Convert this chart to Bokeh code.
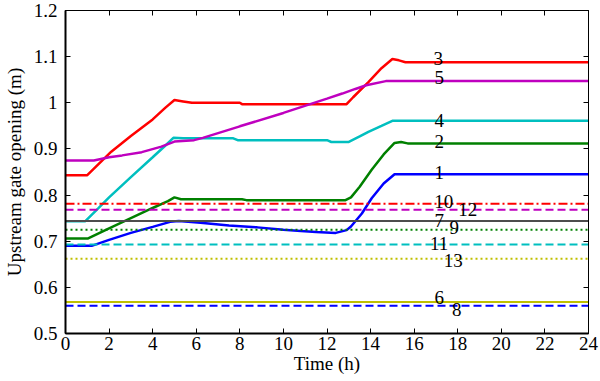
from bokeh.plotting import figure
from bokeh.models import LinearAxis, FixedTicker, Range1d, ColumnDataSource
from bokeh.core.properties import value
from bokeh.embed import file_html
from bokeh.resources import INLINE

# ---------------- data ----------------
t1 = [0, 1.2, 2.0, 3.0, 4.0, 4.8, 5.2, 6.2, 7.5, 8.8, 10.0, 10.8, 11.5, 12.4, 12.9, 13.1, 13.6, 14.05, 14.6, 15.1, 24]
y1 = [0.690, 0.690, 0.703, 0.718, 0.731, 0.742, 0.744, 0.740, 0.734, 0.730, 0.725, 0.722, 0.720, 0.718, 0.724, 0.732, 0.760, 0.793, 0.825, 0.845, 0.845]

t2 = [0, 1.04, 2.0, 3.0, 4.0, 4.7, 5.0, 5.3, 8.1, 8.3, 12.85, 13.1, 13.5, 14.05, 14.6, 15.1, 15.4, 15.7, 24]
y2 = [0.706, 0.706, 0.728, 0.750, 0.772, 0.787, 0.795, 0.791, 0.791, 0.789, 0.789, 0.795, 0.818, 0.855, 0.888, 0.913, 0.915, 0.912, 0.912]

t3 = [0, 1.0, 2.1, 3.0, 4.0, 4.6, 5.0, 5.4, 5.8, 8.0, 8.1, 12.9, 13.2, 13.9, 14.5, 15.0, 15.3, 15.6, 24]
y3 = [0.843, 0.843, 0.894, 0.928, 0.964, 0.990, 1.006, 1.003, 1.000, 1.000, 0.997, 0.997, 1.012, 1.045, 1.075, 1.095, 1.092, 1.088, 1.088]

t4 = [0, 0.9, 1.5, 2.0, 3.0, 4.0, 4.6, 4.95, 5.4, 7.7, 7.9, 12.0, 12.2, 12.98, 13.5, 13.9, 14.5, 15.0, 24]
y4 = [0.743, 0.743, 0.771, 0.795, 0.839, 0.882, 0.908, 0.924, 0.923, 0.923, 0.919, 0.919, 0.915, 0.915, 0.927, 0.937, 0.950, 0.961, 0.961]

t5 = [0, 1.3, 2.0, 2.6, 3.5, 4.4, 5.0, 5.9, 6.3, 8.0, 10.0, 12.0, 12.7, 13.3, 13.8, 14.7, 24]
y5 = [0.875, 0.875, 0.882, 0.886, 0.893, 0.905, 0.916, 0.919, 0.924, 0.949, 0.978, 1.009, 1.020, 1.030, 1.038, 1.047, 1.047]

const_ids = ["6", "7", "8", "9", "10", "11", "12", "13"]
const_vals = [0.568, 0.744, 0.560, 0.725, 0.781, 0.693, 0.768, 0.662]
const_colors = ["#BFBF00", "#4D4D4D", "#0000FF", "#008000", "#FF0000", "#00BFBF", "#BF00BF", "#BFBF00"]
const_dash = ["solid", "solid", "8 4", "2 3", "9 3 2 3", "8 4", "8 4", "2 3"]

dyn_colors = ["#0000FF", "#008000", "#FF0000", "#00BFBF", "#BF00BF"]

lbl_text = ["1", "2", "3", "4", "5", "6", "7", "8", "9", "10", "11", "12", "13"]
lbl_x = [17.15, 17.15, 17.1, 17.15, 17.15, 17.15, 17.15, 17.95, 17.84, 17.36, 17.15, 18.46, 17.79]
lbl_y = [0.849, 0.917, 1.097, 0.962, 1.054, 0.577, 0.744, 0.552, 0.730, 0.787, 0.695, 0.768, 0.659]

x_ticks = list(range(0, 25, 2))
y_ticks = [0.5, 0.6, 0.7, 0.8, 0.9, 1.0, 1.1, 1.2]
y_tick_labels = ["0.5", "0.6", "0.7", "0.8", "0.9", "1", "1.1", "1.2"]

FONT = "Liberation Serif"
FS = "19px"

p = figure(frame_width=523, frame_height=323, output_backend="svg", toolbar_location=None,
           x_range=Range1d(0, 24), y_range=Range1d(0.5, 1.2),
           min_border_left=64, min_border_right=13, min_border_top=10, min_border_bottom=46)
p.grid.visible = False
p.outline_line_color = "black"
p.outline_line_width = 1
p.background_fill_color = "white"
p.border_fill_color = "white"

for ax in (p.xaxis[0], p.yaxis[0]):
    ax.axis_line_width = 2
    ax.axis_line_color = "black"
    ax.major_tick_line_color = "black"
    ax.major_tick_in = 5
    ax.major_tick_out = 0
    ax.minor_tick_line_color = None
    ax.major_label_text_font = FONT
    ax.major_label_text_font_size = FS
    ax.major_label_text_color = "black"
    ax.axis_label_text_font = FONT
    ax.axis_label_text_font_size = FS
    ax.axis_label_text_font_style = "normal"
    ax.axis_label_text_color = "black"

p.xaxis.ticker = FixedTicker(ticks=x_ticks)
p.yaxis.ticker = FixedTicker(ticks=y_ticks)
p.yaxis.major_label_overrides = {v: s for v, s in zip(y_ticks, y_tick_labels)}
p.xaxis.axis_label = "Time (h)"
p.yaxis.axis_label = "Upstream gate opening (m)"
p.xaxis.major_label_standoff = 3
p.xaxis.axis_label_standoff = 0
p.yaxis.major_label_standoff = 8
p.yaxis.axis_label_standoff = 6

for loc, ticks in (("right", y_ticks), ("above", x_ticks)):
    ax = LinearAxis(ticker=FixedTicker(ticks=ticks))
    ax.major_label_text_font_size = "1px"
    ax.major_label_text_color = None
    ax.major_label_standoff = 0
    ax.major_tick_in = 5
    ax.major_tick_out = 0
    ax.major_tick_line_color = "black"
    ax.minor_tick_line_color = None
    ax.axis_line_width = 1
    ax.axis_line_color = "black"
    p.add_layout(ax, loc)

for tt, yy, c in zip([t1, t2, t3, t4, t5], [y1, y2, y3, y4, y5], dyn_colors):
    p.line(tt, yy, line_color=c, line_width=2.5)

for v, c, d in zip(const_vals, const_colors, const_dash):
    p.line([0, 24], [v, v], line_color=c, line_width=2, line_dash=d)

src = ColumnDataSource(dict(x=lbl_x, y=lbl_y, t=lbl_text))
p.text(x="x", y="y", text="t", source=src, text_font=value(FONT), text_font_size=FS,
       text_align="center", text_baseline="middle", text_color="black")

open("out.html", "w").write(file_html(p, INLINE))
